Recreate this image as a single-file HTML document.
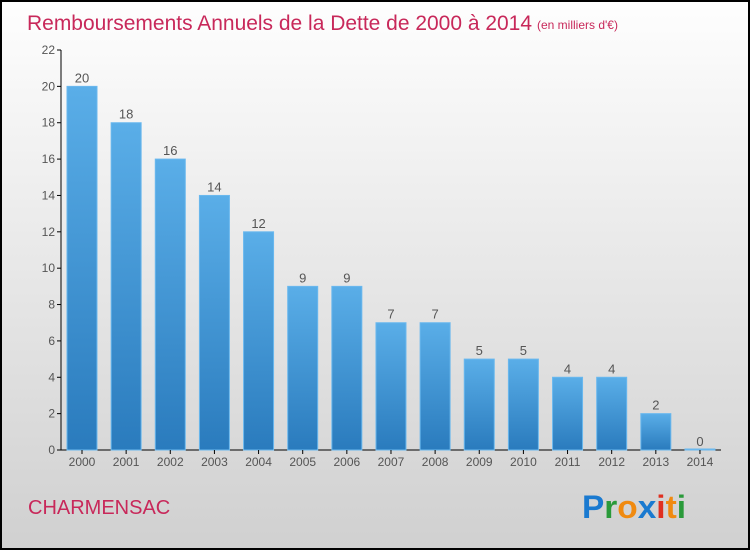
<!DOCTYPE html>
<html><head><meta charset="utf-8"><style>
body{margin:0;width:750px;height:550px;overflow:hidden}
svg{display:block;font-family:"Liberation Sans",sans-serif}
</style></head><body>
<svg id="chart" width="750" height="550">
<defs>
<linearGradient id="bg" x1="0" y1="0" x2="0" y2="1"><stop offset="0" stop-color="#fefefe"/><stop offset="1" stop-color="#d0d0d0"/></linearGradient>
<linearGradient id="bar" x1="0" y1="0" x2="0" y2="1"><stop offset="0" stop-color="#5aaee8"/><stop offset="1" stop-color="#2a7bbd"/></linearGradient>
</defs>
<rect x="1" y="1" width="748" height="548" fill="url(#bg)" stroke="#000" stroke-width="2"/>
<text x="27" y="30" font-size="21" fill="#c8285a" textLength="505" lengthAdjust="spacingAndGlyphs">Remboursements Annuels de la Dette de 2000 à 2014</text>
<text x="537" y="29" font-size="12" fill="#c8285a">(en milliers d'€)</text>
<text x="28" y="514" font-size="20" fill="#c8285a">CHARMENSAC</text>
<g font-size="32" font-weight="bold">
<text x="582" y="518" textLength="104" lengthAdjust="spacingAndGlyphs"><tspan fill="#1a7ad0">P</tspan><tspan fill="#2a9a3a">r</tspan><tspan fill="#f08a10">o</tspan><tspan fill="#1a7ad0">x</tspan><tspan fill="#e03020">i</tspan><tspan fill="#f08a10">t</tspan><tspan fill="#2a9a3a">i</tspan></text>
</g>
<g id="plot"></g>
</svg>
<script>
const years=["2000","2001","2002","2003","2004","2005","2006","2007","2008","2009","2010","2011","2012","2013","2014"];
const values=[20,18,16,14,12,9,9,7,7,5,5,4,4,2,0];
const yTicks=[0,2,4,6,8,10,12,14,16,18,20,22];
const NS="http://www.w3.org/2000/svg";
const g=document.getElementById('plot');
const y=v=>450-v*400/22;
const x=i=>82+i*44.14;
function mk(t,a){const e=document.createElementNS(NS,t);for(const k in a)e.setAttribute(k,a[k]);g.appendChild(e);return e;}
let ax=mk('line',{x1:61,y1:50,x2:61,y2:450,stroke:'#000'});


let bx=mk('line',{x1:61,y1:450,x2:721,y2:450,stroke:'#000'});


yTicks.forEach(t=>{
 const l=mk('line',{x1:57,x2:61,y1:y(t),y2:y(t),stroke:'#000'});
 
 
 const tx=mk('text',{x:55,y:y(t)+4,'text-anchor':'end','font-size':12,fill:'#555'});
 tx.textContent=t;
 
 
});
years.forEach((yr,i)=>{
 const v=values[i],cx=x(i);
 const r=mk('rect',{x:cx-15,y:y(v)-(v===0?1:0),width:30,height:Math.max(450-y(v),1),fill:'url(#bar)',stroke:'#6ab8ee','stroke-width':1});
 
 
 const lb=mk('text',{x:cx,y:y(v)-4,'text-anchor':'middle','font-size':13,fill:'#555'});
 lb.textContent=v;
 
 
 const tk=mk('line',{x1:cx,x2:cx,y1:450,y2:454,stroke:'#000'});
 
 
 const xl=mk('text',{x:cx,y:466,'text-anchor':'middle','font-size':12,fill:'#555'});
 xl.textContent=yr;
 
 
});
</script>
</body></html>
